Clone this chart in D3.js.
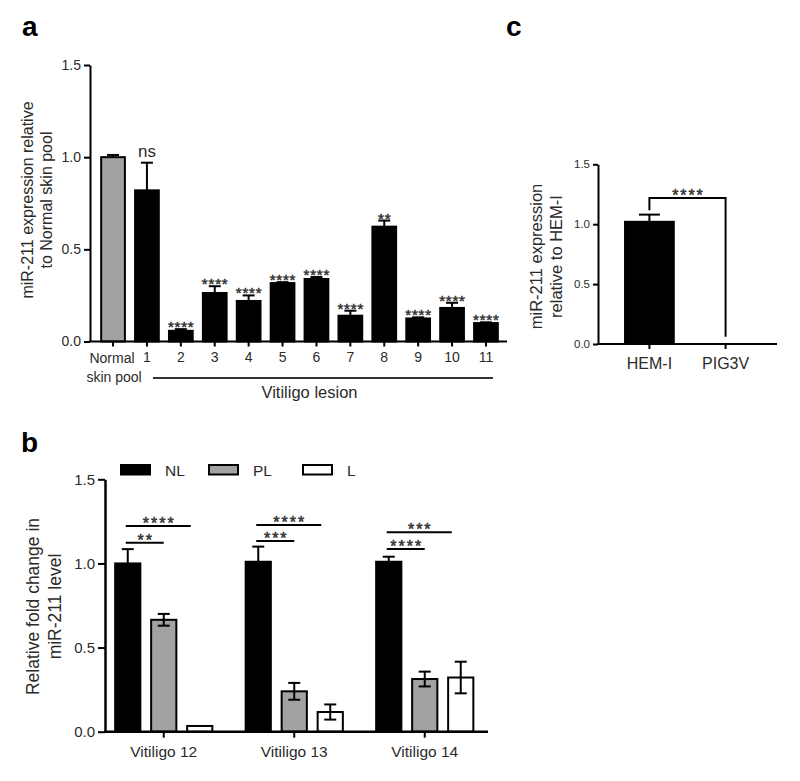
<!DOCTYPE html>
<html><head><meta charset="utf-8">
<script src="https://cdn.jsdelivr.net/npm/d3@7"></script>
<style>
body{margin:0;background:#fff}
svg{display:block}
text{font-family:"Liberation Sans",Arial,Helvetica,sans-serif}
</style>
</head><body>
<svg id="chart" width="800" height="781"></svg>
<script>
// ---------- Panel a data ----------
const catsA = ["Normal skin pool","1","2","3","4","5","6","7","8","9","10","11"];
const valsA = [1.00,0.82,0.058,0.263,0.22,0.317,0.339,0.14,0.623,0.125,0.182,0.10];
const errA  = [0.012,0.15,0.009,0.037,0.03,0.005,0.011,0.027,0.033,0.006,0.028,0.004];
const sigA  = ["","ns","****","****","****","****","****","****","**","****","****","****"];
const yTicksA = [0,0.5,1.0,1.5];
const titleA = ["miR-211 expression relative","to Normal skin pool"];
const groupLabelA = "Vitiligo lesion";

// ---------- Panel b data ----------
const groupsB = ["Vitiligo 12","Vitiligo 13","Vitiligo 14"];
const seriesB = ["NL","PL","L"];
const valsNL = [1.00,1.01,1.01];
const errNL  = [0.085,0.09,0.03];
const valsPL = [0.665,0.24,0.313];
const errPL  = [0.035,0.05,0.044];
const valsL  = [0.034,0.117,0.322];
const errL   = [0,0.045,0.094];
const compB = [
  {group:"Vitiligo 12", to:"PL", level:1.123, label:"**"},
  {group:"Vitiligo 12", to:"L",  level:1.222, label:"****"},
  {group:"Vitiligo 13", to:"PL", level:1.133, label:"***"},
  {group:"Vitiligo 13", to:"L",  level:1.228, label:"****"},
  {group:"Vitiligo 14", to:"PL", level:1.086, label:"****"},
  {group:"Vitiligo 14", to:"L",  level:1.185, label:"***"}
];
const yTicksB = [0,0.5,1.0,1.5];
const titleB = ["Relative fold change in","miR-211 level"];

// ---------- Panel c data ----------
const catsC = ["HEM-I","PIG3V"];
const valsC = [1.02,0];
const errC  = [0.06,0];
const bracketC = {left:1.117, top:1.219, right:0.06, label:"****"};
const yTicksC = [0,0.5,1.0,1.5];
const titleC = ["miR-211 expression","relative to HEM-I"];

const svg = d3.select("#chart");
const TXT = "#2b2b2b";
const GRAY = "#a2a2a4";

function styleAxis(g, fs){
  g.selectAll("path.domain").attr("stroke","#000").attr("stroke-width",2);
  g.selectAll(".tick line").attr("stroke","#000").attr("stroke-width",2);
  g.selectAll(".tick text").attr("fill",TXT).style("font-size",fs+"px")
    .style("font-family",'"Liberation Sans",Arial,sans-serif');
}
function stars(g, x, y, label, fs, ls){
  g.append("text").attr("x",x + ls/2).attr("y",y).attr("text-anchor","middle")
    .attr("fill","#333").attr("stroke","#333").attr("stroke-width",0.5)
    .style("font-size",fs+"px").style("letter-spacing",ls+"px").text(label);
}

// panel letters
[["a",22,36],["b",21,452],["c",506,36]].forEach(([t,x,y])=>{
  svg.append("text").attr("x",x).attr("y",y).text(t)
    .style("font-size","28px").style("font-weight","bold").attr("fill","#000");
});

// ================= Panel a =================
(function(){
  const y = d3.scaleLinear().domain([0,1.5]).range([341.5,65]);
  const x = d3.scaleBand().domain(catsA).range([91,508]).paddingInner(0.3).paddingOuter(0.3);
  const g = svg.append("g");
  const data = catsA.map((c,i)=>({c,v:valsA[i],e:errA[i],s:sigA[i],i}));

  data.forEach(d=>{
    const cx = x(d.c)+x.bandwidth()/2;
    if(d.e>0){
      g.append("line").attr("x1",cx).attr("x2",cx).attr("y1",y(d.v)).attr("y2",y(d.v+d.e))
        .attr("stroke","#000").attr("stroke-width",2);
      g.append("line").attr("x1",cx-6).attr("x2",cx+6).attr("y1",y(d.v+d.e)).attr("y2",y(d.v+d.e))
        .attr("stroke","#000").attr("stroke-width",2);
    }
  });
  g.selectAll("rect.bar").data(data).enter().append("rect")
    .attr("x",d=>x(d.c)).attr("width",x.bandwidth())
    .attr("y",d=>y(d.v)).attr("height",d=>y(0)-y(d.v))
    .attr("fill",d=>d.i===0?GRAY:"#000").attr("stroke","#000").attr("stroke-width",2);

  data.forEach(d=>{
    if(!d.s) return;
    const cx = x(d.c)+x.bandwidth()/2;
    const top = y(d.v+d.e);
    if(d.s==="ns"){
      g.append("text").attr("x",cx).attr("y",top-5.5).attr("text-anchor","middle")
        .attr("fill",TXT).style("font-size","17px").text(d.s);
    } else {
      stars(g, cx, top+3, d.s, 15, 0.8);
    }
  });

  const ya = g.append("g").attr("transform","translate(90,0)")
    .call(d3.axisLeft(y).tickValues(yTicksA).tickFormat(d3.format(".1f")).tickSize(6).tickSizeOuter(0).tickPadding(3));
  styleAxis(ya,14);

  const xa = g.append("g").attr("transform",`translate(0,${y(0)})`)
    .call(d3.axisBottom(x).tickSize(5).tickSizeOuter(0).tickPadding(6)
      .tickFormat(d=>d.startsWith("Normal")?"":d));
  xa.select("path.domain").remove();
  styleAxis(xa,14);
  g.append("line").attr("x1",89).attr("x2",507).attr("y1",y(0)).attr("y2",y(0))
    .attr("stroke","#000").attr("stroke-width",2);

  const cN = x(catsA[0])+x.bandwidth()/2;
  const parts = catsA[0].split(" ");
  g.append("text").attr("x",cN-1).attr("y",363).attr("text-anchor","middle")
    .attr("fill",TXT).style("font-size","14px").text(parts[0]);
  g.append("text").attr("x",cN+1).attr("y",381.5).attr("text-anchor","middle")
    .attr("fill",TXT).style("font-size","14px").text(parts.slice(1).join(" "));

  const x1 = x("1")+x.bandwidth()/2+6, x2 = x("11")+x.bandwidth()/2+7;
  g.append("line").attr("x1",x1).attr("x2",x2).attr("y1",378).attr("y2",378)
    .attr("stroke","#333").attr("stroke-width",2);
  g.append("text").attr("x",(x("5")+x("6"))/2+x.bandwidth()/2+10).attr("y",398).attr("text-anchor","middle")
    .attr("fill",TXT).style("font-size","16.5px").text(groupLabelA);

  const cy = 200;
  g.append("text").attr("transform",`translate(33,${cy}) rotate(-90)`).attr("text-anchor","middle")
    .attr("fill",TXT).style("font-size","16px").text(titleA[0]);
  g.append("text").attr("transform",`translate(52,${cy}) rotate(-90)`).attr("text-anchor","middle")
    .attr("fill",TXT).style("font-size","16px").text(titleA[1]);
})();

// ================= Panel b =================
(function(){
  const y = d3.scaleLinear().domain([0,1.5]).range([731.7,479.3]);
  const x0 = d3.scaleBand().domain(groupsB).range([98.5,490]);
  const x1 = d3.scaleBand().domain(seriesB).range([-54,54]).paddingInner(0.3).paddingOuter(0.15);
  const g = svg.append("g");
  const fills = {NL:"#000", PL:GRAY, L:"#fff"};
  const vals = {NL:valsNL, PL:valsPL, L:valsL};
  const errs = {NL:errNL, PL:errPL, L:errL};
  const cxOf = (grp,s)=> x0(grp)+x0.bandwidth()/2 + x1(s)+x1.bandwidth()/2;

  groupsB.forEach((grp,gi)=>{
    seriesB.forEach(s=>{
      const v = vals[s][gi], e = errs[s][gi];
      const cx = cxOf(grp,s);
      g.append("rect").attr("x",cx-x1.bandwidth()/2).attr("width",x1.bandwidth())
        .attr("y",y(v)).attr("height",y(0)-y(v))
        .attr("fill",fills[s]).attr("stroke","#000").attr("stroke-width",2);
      if(e>0){
        g.append("line").attr("x1",cx).attr("x2",cx).attr("y1",y(v-e)).attr("y2",y(v+e))
          .attr("stroke","#000").attr("stroke-width",2);
        [v+e, v-e].forEach(yy=>{
          g.append("line").attr("x1",cx-6).attr("x2",cx+6).attr("y1",y(yy)).attr("y2",y(yy))
            .attr("stroke","#000").attr("stroke-width",2);
        });
      }
    });
  });

  compB.forEach(c=>{
    const xs = cxOf(c.group,"NL") - 2;
    let xe = cxOf(c.group,c.to);
    if(c.to==="L") xe -= 9;
    const ly = y(c.level);
    g.append("line").attr("x1",xs).attr("x2",xe).attr("y1",ly).attr("y2",ly)
      .attr("stroke","#000").attr("stroke-width",2);
    stars(g, (xs+xe)/2, ly+3, c.label, 16, 2);
  });

  const ya = g.append("g").attr("transform","translate(105,0)")
    .call(d3.axisLeft(y).tickValues(yTicksB).tickFormat(d3.format(".1f")).tickSize(7).tickSizeOuter(0).tickPadding(3));
  styleAxis(ya,15);
  ya.select("path.domain").attr("stroke-width",2.5);

  const xa = g.append("g").attr("transform",`translate(0,${y(0)})`)
    .call(d3.axisBottom(x0).tickSize(6).tickSizeOuter(0).tickPadding(8));
  xa.select("path.domain").remove();
  styleAxis(xa,15.5);
  g.append("line").attr("x1",104).attr("x2",488).attr("y1",y(0)).attr("y2",y(0))
    .attr("stroke","#000").attr("stroke-width",2.5);

  const legX = [121,209,303];
  seriesB.forEach((s,i)=>{
    g.append("rect").attr("x",legX[i]).attr("y",465).attr("width",29).attr("height",9.5)
      .attr("fill",fills[s]).attr("stroke","#000").attr("stroke-width",2);
    g.append("text").attr("x",legX[i]+44).attr("y",475.5).attr("fill",TXT)
      .style("font-size","15.5px").text(s);
  });

  const cy = 606.5;
  g.append("text").attr("transform",`translate(39,${cy}) rotate(-90)`).attr("text-anchor","middle")
    .attr("fill",TXT).style("font-size","17.5px").text(titleB[0]);
  g.append("text").attr("transform",`translate(61,${cy}) rotate(-90)`).attr("text-anchor","middle")
    .attr("fill",TXT).style("font-size","17.5px").text(titleB[1]);
})();

// ================= Panel c =================
(function(){
  const y = d3.scaleLinear().domain([0,1.5]).range([344,164.3]);
  const x = d3.scaleBand().domain(catsC).range([598,777]).paddingInner(0.36).paddingOuter(0.355);
  const g = svg.append("g");
  catsC.forEach((c,i)=>{
    const v = valsC[i], e = errC[i];
    const cx = x(c)+x.bandwidth()/2;
    if(e>0){
      g.append("line").attr("x1",cx).attr("x2",cx).attr("y1",y(v)).attr("y2",y(v+e))
        .attr("stroke","#000").attr("stroke-width",2);
      g.append("line").attr("x1",cx-10.5).attr("x2",cx+10.5).attr("y1",y(v+e)).attr("y2",y(v+e))
        .attr("stroke","#000").attr("stroke-width",2);
    }
    if(v>0){
      g.append("rect").attr("x",x(c)).attr("width",x.bandwidth()).attr("y",y(v)).attr("height",y(0)-y(v))
        .attr("fill","#000").attr("stroke","#000").attr("stroke-width",2);
    }
  });
  const xl = x(catsC[0])+x.bandwidth()/2, xr = x(catsC[1])+x.bandwidth()/2;
  g.append("path").attr("d",`M${xl},${y(bracketC.left)}V${y(bracketC.top)}H${xr}V${y(bracketC.right)}`)
    .attr("fill","none").attr("stroke","#000").attr("stroke-width",2);
  stars(g, (xl+xr)/2, y(bracketC.top)+3, bracketC.label, 16, 1.8);

  const ya = g.append("g").attr("transform","translate(598,0)")
    .call(d3.axisLeft(y).tickValues(yTicksC).tickFormat(d3.format(".1f")).tickSize(5).tickSizeOuter(0).tickPadding(3));
  styleAxis(ya,11.5);
  const xa = g.append("g").attr("transform",`translate(0,${y(0)})`)
    .call(d3.axisBottom(x).tickSize(5).tickSizeOuter(0).tickPadding(9));
  xa.select("path.domain").remove();
  styleAxis(xa,16);
  g.append("line").attr("x1",597).attr("x2",777).attr("y1",y(0)).attr("y2",y(0))
    .attr("stroke","#000").attr("stroke-width",2);

  const cy = 256.5;
  g.append("text").attr("transform",`translate(542,${cy}) rotate(-90)`).attr("text-anchor","middle")
    .attr("fill",TXT).style("font-size","16.5px").text(titleC[0]);
  g.append("text").attr("transform",`translate(562,${cy}) rotate(-90)`).attr("text-anchor","middle")
    .attr("fill",TXT).style("font-size","16.5px").text(titleC[1]);
})();
</script>
</body></html>
